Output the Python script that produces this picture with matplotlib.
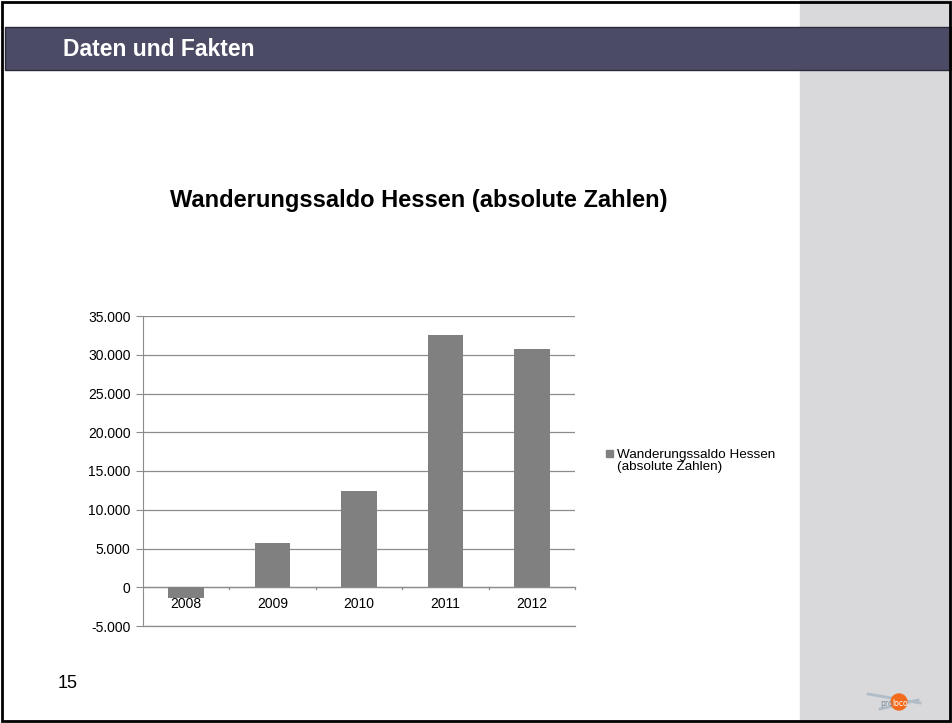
import matplotlib.pyplot as plt
from matplotlib.patches import Rectangle, Circle

# chart data
years = ['2008', '2009', '2010', '2011', '2012']
saldo = [-1400, 5700, 12400, 32500, 30700]
yticks = [-5000, 0, 5000, 10000, 15000, 20000, 25000, 30000, 35000]
ytick_labels = ['-5.000', '0', '5.000', '10.000', '15.000', '20.000', '25.000', '30.000', '35.000']
series_name = 'Wanderungssaldo Hessen\n(absolute Zahlen)'

W, H = 952, 723
fig = plt.figure(figsize=(W / 100, H / 100), dpi=100)
fig.patch.set_facecolor('white')

# slide decoration (figure pixel coords -> fractions)
def px(x, y, w, h):
    return (x / W, 1 - (y + h) / H, w / W, h / H)

bg = fig.add_axes([0, 0, 1, 1])
bg.set_xlim(0, W)
bg.set_ylim(H, 0)
bg.axis('off')
bg.add_patch(Rectangle((800, 0), 152, H, color='#d9d9db', zorder=0))
bg.add_patch(Rectangle((5, 27), 947, 43, facecolor='#4b4b66', edgecolor='#2a2a3a', lw=1, zorder=1))
bg.text(63, 49, 'Daten und Fakten', color='white', fontsize=16.5, fontweight='bold',
        family='Liberation Sans', va='center', ha='left')
bg.add_patch(Rectangle((2, 2), W - 4, H - 4, fill=False, edgecolor='black', lw=2, zorder=3))
bg.text(58, 683, '15', fontsize=13, family='Liberation Sans', va='center', ha='left')

# small logo
bg.plot([868, 920], [694, 703], color='#b0bcc8', lw=2, zorder=2)
bg.plot([880, 918], [709, 700], color='#b0bcc8', lw=2, zorder=2)
bg.add_patch(Circle((899, 702), 8, color='#f26b1d', zorder=3))
bg.text(880, 703, 'pro', fontsize=5.5, color='#7a8a9a', va='center', ha='left', zorder=4)
bg.text(892, 703, 'loco', fontsize=5.5, color='white', va='center', ha='left', zorder=4)

bg.text(419, 200, 'Wanderungssaldo Hessen (absolute Zahlen)', fontsize=17, fontweight='bold',
        family='Liberation Sans', va='center', ha='center')

# legend (square sits next to the first line, as in the source)
bg.add_patch(Rectangle((606, 450), 7, 7, color='#808080'))
bg.text(617, 461, series_name, fontsize=9.7, family='Liberation Sans',
        va='center', ha='left', linespacing=1.05)

# chart
ax = fig.add_axes(px(143, 316, 432, 310))
x = range(len(years))
ax.bar(x, saldo, width=0.41, color='#808080', zorder=2)
ax.set_xlim(-0.5, len(years) - 0.5)
ax.set_ylim(-5000, 35000)
ax.set_yticks(yticks)
ax.set_yticklabels(ytick_labels, family='Liberation Sans', fontsize=10)
ax.yaxis.grid(True, color='#8c8c8c', lw=0.9, zorder=0)
ax.axhline(0, color='#8c8c8c', lw=0.9, zorder=1)
ax.axhline(-5000, color='#8c8c8c', lw=0.9, zorder=1, clip_on=False)
for s in ['top', 'right', 'bottom']:
    ax.spines[s].set_visible(False)
ax.spines['left'].set_color('#8c8c8c')
ax.tick_params(axis='y', length=5, color='#8c8c8c', pad=4)
ax.tick_params(axis='x', length=0)
ax.set_xticks([])
for i, yr in enumerate(years):
    ax.text(i, -1250, yr, ha='center', va='top', fontsize=10, family='Liberation Sans', zorder=3)
for b in [0.5, 1.5, 2.5, 3.5, 4.5]:
    ax.plot([b, b], [0, -250], color='#8c8c8c', lw=0.9, clip_on=False)

fig.savefig('out.png', dpi=100)
